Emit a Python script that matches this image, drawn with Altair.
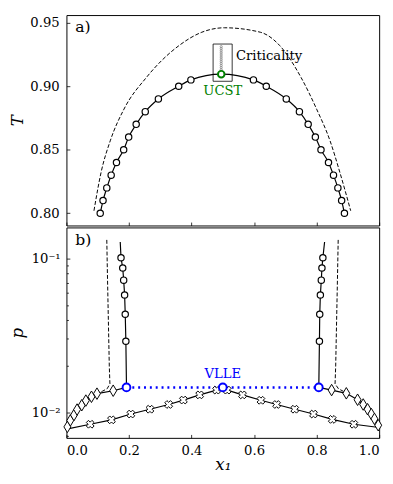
import altair as alt
import pandas as pd

FONT = "DejaVu Serif"

# ---------------- panel a) : T vs x1 ----------------
circ_a_x = [0.108, 0.117, 0.129, 0.143, 0.160, 0.183, 0.199, 0.223, 0.252, 0.294, 0.359, 0.398,
            0.598, 0.639, 0.703, 0.745, 0.773, 0.796, 0.814, 0.838, 0.854, 0.868, 0.880, 0.889]
circ_a_T = [0.80, 0.81, 0.82, 0.83, 0.84, 0.85, 0.86, 0.87, 0.88, 0.89, 0.90, 0.905,
            0.905, 0.90, 0.89, 0.88, 0.87, 0.86, 0.85, 0.84, 0.83, 0.82, 0.81, 0.80]
ucst_x = [0.495]
ucst_T = [0.9095]
dash_a_x = [0.088, 0.111, 0.140, 0.184, 0.256, 0.360, 0.433, 0.505, 0.620, 0.682, 0.750,
            0.800, 0.843, 0.874, 0.909]
dash_a_T = [0.802, 0.8325, 0.857, 0.882, 0.907, 0.932, 0.9425, 0.946, 0.9425, 0.932, 0.907,
            0.882, 0.857, 0.8325, 0.802]
crit_T = [0.9118, 0.9133, 0.9148, 0.9163, 0.9178, 0.9193, 0.9208, 0.9223, 0.9238, 0.9253,
          0.9268, 0.9283, 0.9298, 0.9312]
crit_x = 0.495
box_x = [0.469, 0.530]
box_T = [0.9039, 0.9332]
T_ticks = [0.80, 0.85, 0.90, 0.95]
T_domain = [0.7904, 0.956]

# ---------------- panel b) : p vs x1 ----------------
p_vlle = 0.0145
vlle_x = [0.192, 0.500, 0.807]
branchL_x = [0.192, 0.190, 0.188, 0.186, 0.183, 0.180, 0.1745, 0.172]
branchR_x = [0.807, 0.809, 0.810, 0.812, 0.815, 0.817, 0.820, 0.8255]
branch_p = [0.0145, 0.029, 0.0435, 0.058, 0.0725, 0.087, 0.1015, 0.1285]
dashL_x = [0.129, 0.131, 0.134, 0.137, 0.139, 0.130, 0.115, 0.0976]
dashR_x = [0.869, 0.867, 0.864, 0.861, 0.859, 0.870, 0.885, 0.895]
dash_p = [0.1327, 0.08, 0.04, 0.02, 0.0153, 0.0142, 0.0137, 0.0133]
diaL_x = [0.003, 0.0125, 0.024, 0.034, 0.049, 0.062, 0.080, 0.0976, 0.1495]
diaL_p = [0.00802, 0.00884, 0.00958, 0.0104, 0.0111, 0.0119, 0.0126, 0.0132, 0.0138]
diaR_x = [0.848, 0.895, 0.931, 0.949, 0.963, 0.975, 0.985, 0.997]
diaR_p = [0.01393, 0.01327, 0.01205, 0.01122, 0.01045, 0.00972, 0.00904, 0.00822]
cross_x = [0.076, 0.144, 0.206, 0.267, 0.327, 0.374, 0.426, 0.480,
           0.514, 0.563, 0.622, 0.672, 0.730, 0.790, 0.850, 0.919]
cross_p = [0.00834, 0.00891, 0.00972, 0.01045, 0.01122, 0.01199, 0.01296, 0.01392,
           0.01392, 0.01296, 0.01195, 0.01122, 0.01045, 0.00972, 0.00897, 0.00834]
lowline_x = [0.0] + cross_x[:8] + [0.5] + cross_x[8:] + [1.0]
lowline_p = [0.00776] + cross_p[:8] + [0.0143] + cross_p[8:] + [0.00794]
p_major = [0.01, 0.1]
p_minor = [0.007, 0.008, 0.009, 0.02, 0.03, 0.04, 0.05, 0.06, 0.07, 0.08, 0.09]
p_domain = [0.0068, 0.16]
x_ticks = [0.0, 0.2, 0.4, 0.6, 0.8, 1.0]

W, H = 321, 216
X_PATH = "M-1,-0.45L-0.45,-1L0,-0.55L0.45,-1L1,-0.45L0.55,0L1,0.45L0.45,1L0,0.55L-0.45,1L-1,0.45L-0.55,0Z"
D_PATH = "M0,-1L0.6,0L0,1L-0.6,0Z"

xscale = alt.Scale(domain=[0, 1], nice=False, zero=False)
xaxis_top = alt.Axis(values=x_ticks, labels=False, title=None, domain=False, grid=False,
                     tickSize={"expr": "-3.5"}, tickColor="black")
xaxis_bot = alt.Axis(values=x_ticks, format=".1f", title="x\u2081", domain=False, grid=False,
                     tickSize={"expr": "-3.5"}, tickColor="black", labelPadding=10,
                     titlePadding=0)
Tscale = alt.Scale(domain=T_domain, nice=False, zero=False)
Taxis = alt.Axis(values=T_ticks, format=".2f", title="T", domain=False, grid=False,
                 tickSize={"expr": "-3.5"}, labelPadding=11, minExtent=38, maxExtent=38,
                 titlePadding=3)
pscale = alt.Scale(type="log", domain=p_domain, nice=False)
paxis = alt.Axis(values=p_major, labelExpr="datum.value < 0.05 ? '10\u207b\u00b2' : '10\u207b\u00b9'",
                 title="p", domain=False, grid=False, tickSize={"expr": "-3.5"},
                 labelPadding=10, minExtent=38, maxExtent=38, titlePadding=3)
paxis_minor = alt.Axis(values=p_minor, labels=False, title=None, domain=False, grid=False,
                       tickSize={"expr": "-2"}, orient="left", minExtent=0)


def XA(f="x"):
    return alt.X(f"{f}:Q", scale=xscale, axis=xaxis_top)


def YA(f="y"):
    return alt.Y(f"{f}:Q", scale=Tscale, axis=Taxis)


def XB(f="x"):
    return alt.X(f"{f}:Q", scale=xscale, axis=xaxis_bot)


def YB(f="y"):
    return alt.Y(f"{f}:Q", scale=pscale, axis=paxis)


# ----- panel a data frames
df_dash_a = pd.DataFrame({"x": dash_a_x, "y": dash_a_T})
solid_x = circ_a_x[:12] + ucst_x + circ_a_x[12:]
solid_T = circ_a_T[:12] + ucst_T + circ_a_T[12:]
df_solid_a = pd.DataFrame({"x": solid_x, "y": solid_T})
df_circ_a = pd.DataFrame({"x": circ_a_x, "y": circ_a_T})
df_ucst = pd.DataFrame({"x": ucst_x, "y": ucst_T})
df_crit = pd.DataFrame({"x": [crit_x] * len(crit_T), "y": crit_T})
df_box = pd.DataFrame({"x": [box_x[0]], "x2": [box_x[1]], "y": [box_T[0]], "y2": [box_T[1]]})
df_txt_a = pd.DataFrame({"x": [0.542], "y": [0.9237], "t": ["Criticality"]})
df_txt_u = pd.DataFrame({"x": [0.500], "y": [0.8958], "t": ["UCST"]})
df_lab_a = pd.DataFrame({"x": [0.028], "y": [0.9462], "t": ["a)"]})

a_dash = alt.Chart(df_dash_a).mark_line(color="black", strokeWidth=1, strokeDash=[4, 2],
                                        interpolate="monotone").encode(x=XA(), y=YA())
a_solid = alt.Chart(df_solid_a).mark_line(color="black", strokeWidth=1.2,
                                          interpolate="monotone").encode(x=XA(), y=YA())
a_box = alt.Chart(df_box).mark_rect(fillOpacity=0, stroke="black", strokeWidth=0.8).encode(
    x=XA(), x2="x2", y=YA(), y2="y2")
a_crit = alt.Chart(df_crit).mark_point(shape="circle", size=5, filled=False, color="#808080",
                                       strokeWidth=0.7, opacity=1).encode(x=XA(), y=YA())
a_circ = alt.Chart(df_circ_a).mark_point(shape="circle", size=42, filled=True, fill="white",
                                         stroke="black", strokeWidth=1.2, opacity=1).encode(x=XA(), y=YA())
a_ucst = alt.Chart(df_ucst).mark_point(shape="circle", size=45, filled=True, fill="white",
                                       stroke="#008000", strokeWidth=2, opacity=1).encode(x=XA(), y=YA())
a_t1 = alt.Chart(df_txt_a).mark_text(align="left", baseline="middle", fontSize=13.5, font=FONT,
                                     color="black").encode(x=XA(), y=YA(), text="t:N")
a_t2 = alt.Chart(df_txt_u).mark_text(align="center", baseline="middle", fontSize=13.5, font=FONT,
                                     color="#008000").encode(x=XA(), y=YA(), text="t:N")
a_t3 = alt.Chart(df_lab_a).mark_text(align="left", baseline="middle", fontSize=16, font=FONT,
                                     color="black").encode(x=XA(), y=YA(), text="t:N")

top = alt.layer(a_dash, a_solid, a_box, a_crit, a_circ, a_ucst, a_t1, a_t2, a_t3).properties(
    width=W, height=H)

# ----- panel b data frames
def series(xs, ps, g):
    return pd.DataFrame({"x": xs, "y": ps, "g": [g] * len(xs), "o": list(range(len(xs)))})


df_dash_b = pd.concat([series(dashL_x, dash_p, "L"), series(dashR_x, dash_p, "R")])
df_branch = pd.concat([series(branchL_x, branch_p, "L"), series(branchR_x, branch_p, "R")])
df_dia_line = pd.concat([
    series([0.0] + diaL_x + [vlle_x[0]], [0.0078] + diaL_p + [p_vlle], "L"),
    series([vlle_x[2]] + diaR_x + [1.0], [p_vlle] + diaR_p + [0.0079], "R")])
df_low = series(lowline_x, lowline_p, "C")
df_vlle_line = series([vlle_x[0], vlle_x[2]], [p_vlle, p_vlle], "V")
df_circ_b = pd.DataFrame({"x": branchL_x[1:7] + branchR_x[1:7], "y": branch_p[1:7] * 2})
df_dia = pd.DataFrame({"x": diaL_x + diaR_x, "y": diaL_p + diaR_p})
df_cross = pd.DataFrame({"x": cross_x, "y": cross_p})
df_vlle = pd.DataFrame({"x": vlle_x, "y": [p_vlle] * 3})
df_txt_v = pd.DataFrame({"x": [0.500], "y": [0.0177], "t": ["VLLE"]})
df_lab_b = pd.DataFrame({"x": [0.028], "y": [0.1328], "t": ["b)"]})

b_dash = alt.Chart(df_dash_b).mark_line(color="black", strokeWidth=1, strokeDash=[4, 2]).encode(
    x=XB(), y=YB(), detail="g:N", order="o:Q")
b_branch = alt.Chart(df_branch).mark_line(color="black", strokeWidth=1.2).encode(
    x=XB(), y=YB(), detail="g:N", order="o:Q")
b_dline = alt.Chart(df_dia_line).mark_line(color="black", strokeWidth=1.2).encode(
    x=XB(), y=YB(), detail="g:N", order="o:Q")
b_low = alt.Chart(df_low).mark_line(color="black", strokeWidth=1.2).encode(
    x=XB(), y=YB(), order="o:Q")
b_vline = alt.Chart(df_vlle_line).mark_line(color="blue", strokeWidth=2.5, strokeDash=[2, 4]).encode(
    x=XB(), y=YB(), order="o:Q")
b_circ = alt.Chart(df_circ_b).mark_point(shape="circle", size=42, filled=True, fill="white",
                                         stroke="black", strokeWidth=1.2, opacity=1).encode(x=XB(), y=YB())
b_dia = alt.Chart(df_dia).mark_point(shape=D_PATH, size=140, filled=True, fill="white",
                                     stroke="black", strokeWidth=1, opacity=1).encode(x=XB(), y=YB())
b_cross = alt.Chart(df_cross).mark_point(shape=X_PATH, size=64, filled=True, fill="white",
                                         stroke="black", strokeWidth=1, opacity=1).encode(x=XB(), y=YB())
b_vlle = alt.Chart(df_vlle).mark_point(shape="circle", size=64, filled=True, fill="white",
                                       stroke="blue", strokeWidth=2, opacity=1).encode(x=XB(), y=YB())
b_t1 = alt.Chart(df_txt_v).mark_text(align="center", baseline="middle", fontSize=13.5, font=FONT,
                                     color="blue").encode(x=XB(), y=YB(), text="t:N")
b_t2 = alt.Chart(df_lab_b).mark_text(align="left", baseline="middle", fontSize=16, font=FONT,
                                     color="black").encode(x=XB(), y=YB(), text="t:N")
b_minor = alt.Chart(df_vlle).mark_point(opacity=0).encode(
    x=XB(), y=alt.Y("y:Q", scale=pscale, axis=paxis_minor))

b_main = alt.layer(b_dash, b_branch, b_dline, b_low, b_vline, b_circ, b_dia, b_cross, b_vlle,
                   b_t1, b_t2)
bottom = alt.layer(b_main, b_minor).resolve_axis(y="independent").properties(width=W, height=H)

chart = alt.vconcat(top, bottom, spacing=0).properties(padding=0).configure_view(
    stroke="black", strokeWidth=1).configure_axis(
    labelFont=FONT, labelFontSize=13.5, labelColor="black", titleFont=FONT, titleFontSize=17,
    titleFontStyle="italic", titleFontWeight="normal", titleColor="black", tickColor="black",
    tickWidth=0.8)

chart.save("out.html", embed_options={"renderer": "svg", "actions": False})
